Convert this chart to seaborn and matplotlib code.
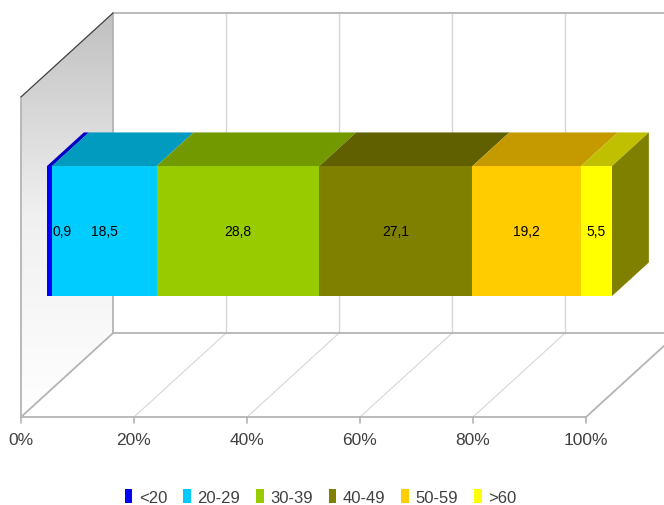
import matplotlib
matplotlib.use("Agg")
import numpy as np
import matplotlib.pyplot as plt
from matplotlib.patches import Polygon
from matplotlib.colors import LinearSegmentedColormap
import seaborn as sns

sns.set_style("white")
plt.rcParams['font.family'] = ['Liberation Sans', 'DejaVu Sans']

# data
groups = ["<20", "20-29", "30-39", "40-49", "50-59", ">60"]
shares = [0.9, 18.5, 28.8, 27.1, 19.2, 5.5]
front_colors = ["#0000FF", "#00CCFF", "#99CC00", "#808000", "#FFCC00", "#FFFF00"]
top_colors = ["#0000C4", "#009BBF", "#739900", "#606000", "#C49A00", "#C0C000"]
side_color = "#808000"
tick_pcts = [0, 20, 40, 60, 80, 100]
tick_labels = ["0%", "20%", "40%", "60%", "80%", "100%"]

# fake 3d geometry (x in %, y in bar units where the bar is 0.8 tall)
DX, DY = 16.3, 0.517        # full depth of the box
D0 = 0.283                  # depth of the bar front face
BD = 0.40                   # depth of the bar itself
FLOOR, TOP = -1.145, 0.825  # floor / wall top on the front plane


def proj(pct, yy, d):
    return (pct + (d - D0) * DX, yy + d * DY)


fig = plt.figure(figsize=(6.64, 5.06), dpi=100)
ax = fig.add_axes([0, 0, 1, 1])

# walls
floor = [proj(0, FLOOR, 0), proj(100, FLOOR, 0), proj(100, FLOOR, 1), proj(0, FLOOR, 1)]
ax.add_patch(Polygon(floor, closed=True, facecolor="white", edgecolor="none", zorder=0))
left = [proj(0, FLOOR, 0), proj(0, FLOOR, 1), proj(0, TOP, 1), proj(0, TOP, 0)]
left_poly = Polygon(left, closed=True, facecolor="none", edgecolor="none", zorder=0)
ax.add_patch(left_poly)
grad = np.linspace(0, 1, 256).reshape(-1, 1)
cmap = LinearSegmentedColormap.from_list("wall", ["#FFFFFF", "#F0F0F0", "#C0C0C0"])
xs = [p[0] for p in left]
ys = [p[1] for p in left]
im = ax.imshow(grad, cmap=cmap, origin="lower", aspect="auto", interpolation="bilinear",
               extent=(min(xs), max(xs), min(ys), max(ys)), zorder=0)
im.set_clip_path(left_poly)

grid_c = "#D6D6D6"
edge_c = "#B4B4B4"
for p in tick_pcts[1:-1]:
    a, b = proj(p, FLOOR, 1), proj(p, TOP, 1)
    ax.plot([a[0], b[0]], [a[1], b[1]], color=grid_c, lw=1.0, zorder=0.5)
    a, b = proj(p, FLOOR, 0), proj(p, FLOOR, 1)
    ax.plot([a[0], b[0]], [a[1], b[1]], color=grid_c, lw=0.8, zorder=0.5)

edges = [
    (proj(0, FLOOR, 0), proj(100, FLOOR, 0)),
    (proj(100, FLOOR, 0), proj(100, FLOOR, 1)),
    (proj(0, FLOOR, 1), proj(100, FLOOR, 1)),
    (proj(0, TOP, 1), proj(100, TOP, 1)),
    (proj(0, FLOOR, 0), proj(0, TOP, 0)),
    (proj(0, FLOOR, 1), proj(0, TOP, 1)),
    (proj(0, FLOOR, 0), proj(0, FLOOR, 1)),
]
for a, b in edges:
    ax.plot([a[0], b[0]], [a[1], b[1]], color=edge_c, lw=1.3, zorder=0.6)
a, b = proj(0, TOP, 0), proj(0, TOP, 1)
ax.plot([a[0], b[0]], [a[1], b[1]], color="#404040", lw=0.9, zorder=0.6)

# ticks and labels on the front edge
for p, lab in zip(tick_pcts, tick_labels):
    x0, y0 = proj(p, FLOOR, 0)
    ax.plot([x0, x0], [y0, y0 - 0.035], color=edge_c, lw=1.2, zorder=0.6)
    ax.text(x0, y0 - 0.135, lab, ha="center", va="center", fontsize=12.5,
            color="#404040", zorder=3)

# stacked bar: front faces through seaborn (largest cumulative first)
cum = np.cumsum(shares)
starts = cum - np.array(shares)
for i in range(len(groups) - 1, -1, -1):
    sns.barplot(x=[cum[i]], y=["r"], orient="h", color=front_colors[i],
                saturation=1, width=0.8, errorbar=None, label=groups[i],
                edgecolor="none", linewidth=0, ax=ax, zorder=2)

bdx, bdy = BD * DX, BD * DY
for i in range(len(groups)):
    l, r = starts[i], cum[i]
    top = [(l, 0.4), (r, 0.4), (r + bdx, 0.4 + bdy), (l + bdx, 0.4 + bdy)]
    ax.add_patch(Polygon(top, closed=True, facecolor=top_colors[i], edgecolor="none", zorder=2))
    c = (l + r) / 2
    ax.text(max(c, 2.7), 0.0, f"{shares[i]:.1f}".replace(".", ","), ha="center",
            va="center", fontsize=10, color="black", zorder=3)
end = cum[-1]
side = [(end, -0.4), (end, 0.4), (end + bdx, 0.4 + bdy), (end + bdx, -0.4 + bdy)]
ax.add_patch(Polygon(side, closed=True, facecolor=side_color, edgecolor="none", zorder=2))

ax.set_xlim(-8.32, 109.2)
ax.set_ylim(-1.686, 1.428)
ax.set_axis_off()

handles, labels = ax.get_legend_handles_labels()
if ax.get_legend() is not None:
    ax.get_legend().remove()
order = [labels.index(g) for g in groups]
fig.legend([handles[k] for k in order], [labels[k] for k in order],
           loc="center", bbox_to_anchor=(0.483, 0.016), ncol=6, frameon=False,
           fontsize=12, handlelength=0.45, handleheight=0.9, handletextpad=0.4,
           columnspacing=0.95, labelcolor="#404040")

fig.savefig("out.png", dpi=100)
